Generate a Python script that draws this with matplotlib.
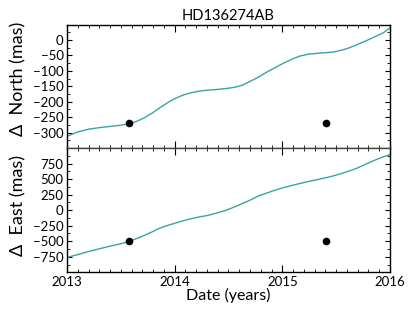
import matplotlib
matplotlib.use('Agg')
import matplotlib.pyplot as plt
from matplotlib.ticker import MultipleLocator, FormatStrFormatter

plt.rcParams['font.family'] = ['Lato', 'DejaVu Sans']

# curve
date = [2013.00, 2013.10, 2013.20, 2013.30, 2013.40, 2013.50, 2013.58, 2013.65,
        2013.72, 2013.79, 2013.86, 2013.93, 2014.00, 2014.08, 2014.16, 2014.24,
        2014.32, 2014.40, 2014.48, 2014.56, 2014.63, 2014.70, 2014.78, 2014.85,
        2014.93, 2015.01, 2015.09, 2015.16, 2015.24, 2015.32, 2015.40, 2015.47,
        2015.55, 2015.63, 2015.70, 2015.78, 2015.86, 2015.94, 2016.00]
north = [-312, -298, -289, -284, -280, -276, -271, -263,
         -252, -237, -220, -204, -190, -178, -170, -165,
         -162, -160, -157, -153, -146, -134, -120, -105,
         -90, -75, -62, -52, -46, -43, -41, -39,
         -33, -24, -14, -2, 11, 24, 40]
east = [-760, -715, -665, -622, -579, -540, -503, -455,
        -405, -350, -291, -248, -211, -170, -135, -105,
        -80, -42, 0, 55, 108, 160, 230, 272,
        320, 362, 398, 428, 460, 490, 520, 550,
        590, 635, 680, 745, 805, 860, 893]

# measured points
obs_date = [2013.576, 2015.41]
obs_north = [-270, -270]
obs_east = [-500, -500]

curve_color = '#3aa3a6'

fig = plt.figure(figsize=(4.15, 3.12), dpi=100)
ax1 = fig.add_axes([0.1614, 0.5256, 0.7784, 0.3954])
ax2 = fig.add_axes([0.1614, 0.1272, 0.7784, 0.3984], sharex=ax1)

ax1.plot(date, north, color=curve_color, lw=1.0)
ax1.plot(obs_date, obs_north, 'o', color='black', ms=4.5)
ax2.plot(date, east, color=curve_color, lw=1.0)
ax2.plot(obs_date, obs_east, 'o', color='black', ms=4.5)

ax1.set_xlim(2013, 2016)
ax1.set_ylim(-350, 50)
ax2.set_ylim(-1000, 1000)

ax1.set_yticks(range(-300, 1, 50))
ax1.yaxis.set_minor_locator(MultipleLocator(25))
ax2.set_yticks(range(-750, 751, 250))
ax2.yaxis.set_minor_locator(MultipleLocator(125))
ax2.xaxis.set_major_locator(MultipleLocator(1))
ax2.xaxis.set_minor_locator(MultipleLocator(0.1))
ax2.xaxis.set_major_formatter(FormatStrFormatter('%d'))

for ax in (ax1, ax2):
    ax.tick_params(which='both', direction='in', top=True, right=True,
                   labelsize=9.5, pad=2.5)
    ax.tick_params(axis='x', which='major', length=5)
    ax.tick_params(axis='x', which='minor', length=2.5)
    ax.tick_params(axis='y', which='major', length=3.5)
    ax.tick_params(axis='y', which='minor', length=2)
    for s in ax.spines.values():
        s.set_linewidth(1.0)
ax1.spines['bottom'].set_color('#444444')
ax2.spines['top'].set_color('#444444')
ax1.tick_params(labelbottom=False)

ax1.set_title('HD136274AB', fontsize=10.5, pad=3)
ax1.set_ylabel('Δ  North (mas)', fontsize=13)
ax2.set_ylabel('Δ  East (mas)', fontsize=13)
ax2.set_xlabel('Date (years)', fontsize=11.5, labelpad=0)
ax1.yaxis.set_label_coords(-0.124, 0.56)
ax2.yaxis.set_label_coords(-0.124, 0.54)

fig.savefig('out.png', dpi=100)
